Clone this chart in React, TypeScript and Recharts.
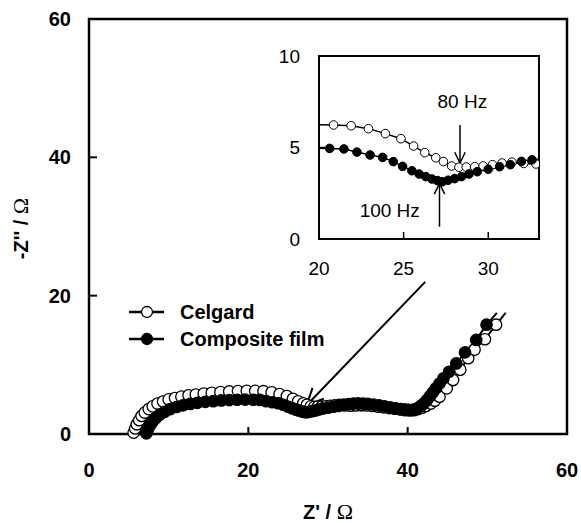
import React from "react";
import {
  LineChart,
  Line,
  XAxis,
  YAxis,
  ReferenceArea,
  ReferenceLine,
  ReferenceDot,
  Label,
} from "recharts";

// Nyquist data: [Z', -Z''] in ohm
const celgardPoints: [number, number][] = [
  [5.6, 0.2], [5.8, 0.8], [6.0, 1.4], [6.3, 2.0], [6.6, 2.6], [7.0, 3.1], [7.5, 3.6],
  [8.0, 4.0], [8.6, 4.4], [9.3, 4.7], [10.0, 5.0], [10.8, 5.2], [11.6, 5.4], [12.5, 5.6],
  [13.4, 5.7], [14.4, 5.85], [15.4, 5.95], [16.5, 6.05], [17.6, 6.15], [18.7, 6.2],
  [19.8, 6.25], [20.86, 6.23], [21.9, 6.19], [22.92, 6.03], [23.92, 5.76], [24.84, 5.48],
  [25.59, 5.08], [26.25, 4.72], [26.9, 4.44], [27.35, 4.23], [27.84, 3.99], [28.27, 3.92],
  [28.7, 3.93], [29.2, 3.95], [29.7, 3.99], [30.25, 4.06], [30.82, 4.15], [31.4, 4.2],
  [32.1, 4.13], [32.82, 4.1], [33.5, 4.12], [34.2, 4.15], [34.9, 4.12], [35.6, 4.05],
  [36.3, 3.95], [37.0, 3.85], [37.7, 3.75], [38.4, 3.65], [39.1, 3.55], [39.7, 3.45],
  [40.3, 3.4], [40.8, 3.45], [41.3, 3.6], [41.8, 3.8], [42.3, 4.05], [42.9, 4.4],
  [43.4, 4.8], [44.0, 5.4], [44.9, 6.6], [45.7, 7.8], [46.6, 9.3], [47.6, 10.95],
  [48.4, 12.2], [49.7, 13.7], [51.1, 15.8], [52.3, 17.5],
];

const compositePoints: [number, number][] = [
  [7.2, 0.1], [7.4, 0.7], [7.7, 1.3], [8.0, 1.8], [8.4, 2.3], [8.9, 2.8], [9.5, 3.2],
  [10.2, 3.6], [11.0, 3.9], [11.8, 4.15], [12.7, 4.35], [13.6, 4.5], [14.6, 4.65],
  [15.6, 4.75], [16.6, 4.85], [17.6, 4.9], [18.6, 4.95], [19.6, 4.97], [20.63, 4.95],
  [21.47, 4.92], [22.24, 4.75], [23.02, 4.59], [23.76, 4.46], [24.39, 4.23], [24.94, 3.97],
  [25.49, 3.73], [25.92, 3.55], [26.31, 3.41], [26.67, 3.28], [27.0, 3.19], [27.29, 3.13],
  [27.63, 3.21], [28.02, 3.3], [28.43, 3.41], [28.86, 3.55], [29.35, 3.68], [30.0, 3.81],
  [30.67, 3.95], [31.31, 4.06], [31.96, 4.24], [32.59, 4.33], [33.2, 4.4], [33.8, 4.42],
  [34.4, 4.4], [35.0, 4.35], [35.7, 4.25], [36.4, 4.15], [37.1, 4.0], [37.8, 3.85],
  [38.5, 3.7], [39.1, 3.6], [39.6, 3.55], [40.1, 3.5], [40.6, 3.5], [41.0, 3.6],
  [41.4, 3.85], [41.75, 4.15], [42.1, 4.5], [42.45, 4.95], [42.8, 5.45], [43.15, 6.0],
  [43.55, 6.6], [44.0, 7.3], [44.5, 8.06], [45.2, 9.0], [46.1, 10.2], [47.2, 11.8],
  [48.6, 13.6], [49.9, 15.8], [51.2, 17.5],
];

const mainTicks = [0, 20, 40, 60];
const insetXTicks = [20, 25, 30];
const insetYTicks = [0, 5, 10];
const insetXDomain: [number, number] = [20, 33];
const insetYDomain: [number, number] = [0, 10];

const toRows = (pts: [number, number][]) => pts.map(([x, y]) => ({ x, y }));
const celgard = toRows(celgardPoints);
const composite = toRows(compositePoints);

const SANS = "'Liberation Sans', Arial, sans-serif";
const SERIF = "'Liberation Serif', 'Times New Roman', serif";

const mainTick = { fontSize: 20, fontWeight: "bold", fill: "#000", fontFamily: SANS };
const insetTick = { fontSize: 19, fill: "#000", fontFamily: SANS };

// arrow drawn from (x1,y1) to head at (x2,y2)
const arrow = (head: number, width: number) => (p: any) => {
  const { x1, y1, x2, y2 } = p;
  const a = Math.atan2(y1 - y2, x1 - x2);
  const s = 0.45;
  const pts = [
    [x2 + head * Math.cos(a + s), y2 + head * Math.sin(a + s)],
    [x2, y2],
    [x2 + head * Math.cos(a - s), y2 + head * Math.sin(a - s)],
  ]
    .map((q) => q.join(","))
    .join(" ");
  return (
    <g>
      <line x1={x1} y1={y1} x2={x2} y2={y2} stroke="#000" strokeWidth={width} />
      <polyline points={pts} fill="none" stroke="#000" strokeWidth={width} />
    </g>
  );
};

const mainDot = (fill: string, count: number) => (p: any) =>
  p.index === count - 1 ? (
    <g key={`d-${p.index}`} />
  ) : (
    <circle key={`d-${p.index}`} cx={p.cx} cy={p.cy} r={5.7} fill={fill} stroke="#000" strokeWidth={1.3} />
  );

const insetDot = (fill: string) => (p: any) =>
  p.payload.x < insetXDomain[0] || p.payload.x > insetXDomain[1] ? (
    <g key={`i-${p.index}`} />
  ) : (
    <circle key={`i-${p.index}`} cx={p.cx} cy={p.cy} r={4.3} fill={fill} stroke="#000" strokeWidth={1} />
  );

const yTitle = (props: any) => {
  const { viewBox } = props;
  const cx = viewBox.x + 28;
  const cy = viewBox.y + viewBox.height / 2 + 2;
  return (
    <text x={cx} y={cy} transform={`rotate(-90, ${cx}, ${cy})`} textAnchor="middle" fontFamily={SANS} fontWeight="bold" fontSize={20} fill="#000">
      -Z'' /{" "}
      <tspan fontFamily={SERIF} fontWeight="normal" fontSize={22}>
        Ω
      </tspan>
    </text>
  );
};

const xTitle = (props: any) => {
  const { viewBox } = props;
  const cx = viewBox.x + viewBox.width / 2;
  const cy = viewBox.y + 85;
  return (
    <text x={cx} y={cy} textAnchor="middle" fontFamily={SANS} fontWeight="bold" fontSize={20} fill="#000">
      Z' /{" "}
      <tspan fontFamily={SERIF} fontWeight="normal" fontSize={22}>
        Ω
      </tspan>
    </text>
  );
};

const legendItems = [
  { name: "Celgard", fill: "#fff", y: 312 },
  { name: "Composite film", fill: "#000", y: 339 },
];

export default function App() {
  return (
    <div style={{ position: "absolute", left: 0, top: 0, width: 581, height: 523, background: "#fff" }}>
      <LineChart width={581} height={523} margin={{ top: 19, right: 14, bottom: 0, left: 0 }}>
        <XAxis
          type="number"
          dataKey="x"
          domain={[0, 60]}
          ticks={mainTicks}
          height={89}
          tick={mainTick}
          tickSize={-7}
          tickMargin={36}
          axisLine={{ stroke: "#000", strokeWidth: 2 }}
          tickLine={{ stroke: "#000", strokeWidth: 2 }}
        >
          <Label content={xTitle} />
        </XAxis>
        <YAxis
          type="number"
          dataKey="y"
          domain={[0, 60]}
          ticks={mainTicks}
          width={89}
          tick={mainTick}
          tickSize={-8}
          tickMargin={26}
          axisLine={{ stroke: "#000", strokeWidth: 2 }}
          tickLine={{ stroke: "#000", strokeWidth: 2 }}
        >
          <Label content={yTitle} />
        </YAxis>
        <ReferenceArea x1={0} x2={60} y1={0} y2={60} fill="none" stroke="#000" strokeWidth={2.5} />
        <Line
          data={celgard}
          dataKey="y"
          name="Celgard"
          type="linear"
          stroke="#000"
          strokeWidth={2}
          dot={mainDot("#fff", celgard.length)}
          activeDot={false}
          isAnimationActive={false}
        />
        <Line
          data={composite}
          dataKey="y"
          name="Composite film"
          type="linear"
          stroke="#000"
          strokeWidth={2}
          dot={mainDot("#000", composite.length)}
          activeDot={false}
          isAnimationActive={false}
        />
        <ReferenceLine
          segment={[
            { x: 42.2, y: 22.0 },
            { x: 27.35, y: 4.2 },
          ]}
          shape={arrow(18, 2)}
        />
      </LineChart>

      <div style={{ position: "absolute", left: 260, top: 40 }}>
        <LineChart width={290} height={240} margin={{ top: 16, right: 11, bottom: 0, left: 0 }}>
          <XAxis
            type="number"
            dataKey="x"
            domain={insetXDomain}
            allowDataOverflow
            ticks={insetXTicks}
            height={41}
            tick={insetTick}
            tickSize={-7}
            tickMargin={30}
            axisLine={{ stroke: "#000", strokeWidth: 2 }}
            tickLine={{ stroke: "#000", strokeWidth: 1.5 }}
          />
          <YAxis
            type="number"
            dataKey="y"
            domain={insetYDomain}
            allowDataOverflow
            ticks={insetYTicks}
            width={59}
            tick={insetTick}
            tickSize={-6}
            tickMargin={25}
            axisLine={{ stroke: "#000", strokeWidth: 2 }}
            tickLine={{ stroke: "#000", strokeWidth: 1.5 }}
          />
          <ReferenceArea x1={20} x2={33} y1={0} y2={10} fill="none" stroke="#000" strokeWidth={2} />
          <Line
            data={celgard}
            dataKey="y"
            type="linear"
            stroke="#000"
            strokeWidth={1.5}
            dot={insetDot("#fff")}
            activeDot={false}
            isAnimationActive={false}
          />
          <Line
            data={composite}
            dataKey="y"
            type="linear"
            stroke="#000"
            strokeWidth={1.5}
            dot={insetDot("#000")}
            activeDot={false}
            isAnimationActive={false}
          />
          <ReferenceLine
            segment={[
              { x: 28.33, y: 6.23 },
              { x: 28.33, y: 4.15 },
            ]}
            shape={arrow(12, 1.5)}
          />
          <ReferenceLine
            segment={[
              { x: 27.12, y: 0.67 },
              { x: 27.12, y: 3.04 },
            ]}
            shape={arrow(12, 1.5)}
          />
          <ReferenceDot x={28.47} y={7.54} r={0} stroke="none" label={{ value: "80 Hz", position: "center", fontSize: 19, fill: "#000", fontFamily: SANS }} />
          <ReferenceDot x={24.18} y={1.58} r={0} stroke="none" label={{ value: "100 Hz", position: "center", fontSize: 19, fill: "#000", fontFamily: SANS }} />
        </LineChart>
      </div>

      <svg width={581} height={523} style={{ position: "absolute", left: 0, top: 0, pointerEvents: "none" }}>
        {legendItems.map((item) => (
          <g key={item.name}>
            <line x1={129} x2={164} y1={item.y} y2={item.y} stroke="#000" strokeWidth={2.5} />
            <circle cx={147} cy={item.y} r={5.5} fill={item.fill} stroke="#000" strokeWidth={1.3} />
            <text x={180} y={item.y + 7} fontFamily={SANS} fontWeight="bold" fontSize={20} fill="#000">
              {item.name}
            </text>
          </g>
        ))}
      </svg>
    </div>
  );
}
